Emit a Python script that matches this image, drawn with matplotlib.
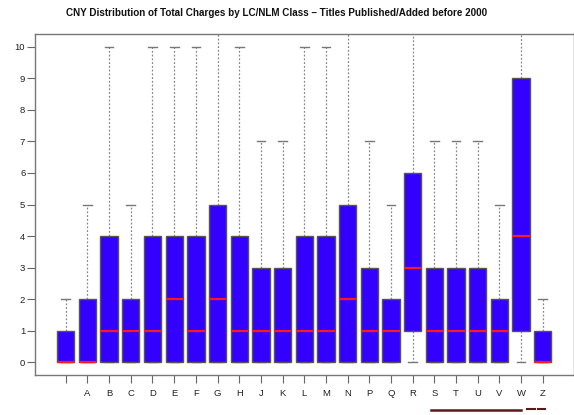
import matplotlib
matplotlib.use("Agg")
import matplotlib.pyplot as plt
from matplotlib.lines import Line2D

categories = ['', 'A', 'B', 'C', 'D', 'E', 'F', 'G', 'H', 'J', 'K', 'L', 'M', 'N',
              'P', 'Q', 'R', 'S', 'T', 'U', 'V', 'W', 'Z']
q1 = [0, 0, 0, 0, 0, 0, 0, 0, 0, 0, 0, 0, 0, 0, 0, 0, 1, 0, 0, 0, 0, 1, 0]
med = [0, 0, 1, 1, 1, 2, 1, 2, 1, 1, 1, 1, 1, 2, 1, 1, 3, 1, 1, 1, 1, 4, 0]
q3 = [1, 2, 4, 2, 4, 4, 4, 5, 4, 3, 3, 4, 4, 5, 3, 2, 6, 3, 3, 3, 2, 9, 1]
whislo = [0, 0, 0, 0, 0, 0, 0, 0, 0, 0, 0, 0, 0, 0, 0, 0, 0, 0, 0, 0, 0, 0, 0]
whishi = [2, 5, 10, 5, 10, 10, 10, 12, 10, 7, 7, 10, 10, 12, 7, 5, 12, 7, 7, 7, 5, 12, 2]
yticks = list(range(0, 11))

plt.rcParams['font.family'] = ['Liberation Sans', 'DejaVu Sans']

W, H = 574, 415
fig = plt.figure(figsize=(W / 100, H / 100), dpi=100)
left, right, top, bottom = 35, 573.5, 34.1, 374.9
ax = fig.add_axes([left / W, (H - bottom) / H, (right - left) / W, (bottom - top) / H])

stats = []
for i, c in enumerate(categories):
    stats.append(dict(label=c, q1=q1[i], med=med[i], q3=q3[i],
                      whislo=whislo[i], whishi=whishi[i], fliers=[]))
positions = list(range(1, len(categories) + 1))

bp = ax.bxp(stats, positions=positions, widths=0.8, capwidths=0.4,
            patch_artist=True, showfliers=False,
            boxprops=dict(facecolor='#3300ff', edgecolor='#555555', linewidth=1.0),
            medianprops=dict(color='#ff1a1a', linewidth=1.6, solid_capstyle='butt'),
            whiskerprops=dict(color='#888888', linewidth=0.9, linestyle=(0, (1.5, 1.5))),
            capprops=dict(color='#777777', linewidth=1.0))
for b in bp['boxes']:
    b.set_zorder(3)
for m in bp['medians']:
    m.set_zorder(4)
for w in bp['whiskers'] + bp['caps']:
    w.set_zorder(2)

ax.set_xlim(-0.42, 24.42)
ax.set_ylim(-0.4, 10.4)
ax.set_yticks(yticks)
ax.set_yticklabels([str(v) for v in yticks])
ax.set_xticks(positions)
ax.set_xticklabels(categories)
ax.tick_params(axis='both', direction='out', length=5.5, width=0.8, color='#666666',
               labelsize=6.8, labelcolor='#222222')
ax.tick_params(axis='y', pad=1.5)
ax.tick_params(axis='x', pad=5)
for s in ax.spines.values():
    s.set_color('#777777')
    s.set_linewidth(1.0)

fig.text(0.5 * (70 + 484) / W, 1 - 12.5 / H,
         'CNY Distribution of Total Charges by LC/NLM Class \u2013 Titles Published/Added before 2000',
         ha='center', va='center', fontsize=7.1, fontweight='bold', color='#111111')

# cropped artifact at bottom edge
fig.add_artist(Line2D([431 / W, 521 / W], [1 - 410 / H, 1 - 410 / H],
                      color='#5a1a1a', linewidth=1.8, transform=fig.transFigure))
fig.add_artist(Line2D([527 / W, 535 / W], [1 - 409 / H, 1 - 409 / H],
                      color='#5a1a1a', linewidth=1.5, transform=fig.transFigure))
fig.add_artist(Line2D([538 / W, 545 / W], [1 - 409 / H, 1 - 409 / H],
                      color='#5a1a1a', linewidth=1.5, transform=fig.transFigure))

fig.savefig('out.png', dpi=100)
